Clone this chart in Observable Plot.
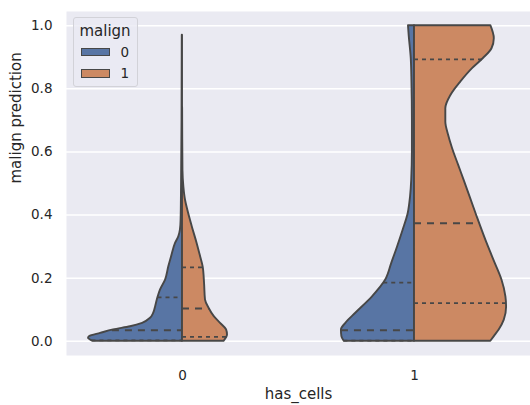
<!DOCTYPE html>
<html>
<head>
<meta charset="utf-8">
<script src="https://cdn.jsdelivr.net/npm/d3@7"></script>
<script src="https://cdn.jsdelivr.net/npm/@observablehq/plot@0.6"></script>
<style>
  body { margin: 0; background: white; }
  #wrap { position: relative; width: 530px; height: 405px; font-family: "DejaVu Sans", sans-serif; color: #262626; }
  #legend { position: absolute; left: 72.5px; top: 16.5px; width: 65px; height: 70px; box-sizing: border-box;
            background: rgba(234,234,242,0.8); border: 1px solid #d2d2d8; border-radius: 3px; }
  #legend .title { position: absolute; left: 0; width: 100%; top: 4px; text-align: center; font-size: 15px; line-height: 18px; }
  #legend .sw { position: absolute; left: 7px; width: 29px; height: 8.5px; border: 1.3px solid #474747; box-sizing: border-box; }
  #legend .lab { position: absolute; left: 47px; font-size: 13.5px; line-height: 16px; }
</style>
</head>
<body>
<div id="wrap">
  <div id="chart"></div>
  <div id="legend"></div>
</div>
<script>
// ---- data ----
const hasCells = [0, 1];
const malign = [0, 1];
const malignColors = ["#5875a4", "#cc8963"];
const legendTitle = "malign";
const xLabel = "has_cells";
const yLabel = "malign prediction";
const yTicks = [0, 0.2, 0.4, 0.6, 0.8, 1.0];
const yTickLabels = ["0.0", "0.2", "0.4", "0.6", "0.8", "1.0"];

// density half-widths (x units) at prediction values, has_cells=0, malign=0
const c0m0Y = [0, 0.010, 0.015, 0.025, 0.036, 0.046, 0.057, 0.073, 0.089, 0.109, 0.138, 0.162, 0.194, 0.236, 0.268, 0.310, 0.331, 0.352, 0.384, 0.50, 0.70, 0.97];
const c0m0W = [0.384, 0.405, 0.400, 0.353, 0.297, 0.224, 0.172, 0.138, 0.124, 0.116, 0.106, 0.095, 0.073, 0.059, 0.047, 0.030, 0.016, 0.009, 0.006, 0.004, 0.002, 0.001];
// has_cells=0, malign=1
const c0m1Y = [0, 0.020, 0.036, 0.057, 0.078, 0.104, 0.131, 0.184, 0.236, 0.268, 0.310, 0.363, 0.415, 0.447, 0.488, 0.54, 0.64, 0.74];
const c0m1W = [0.179, 0.194, 0.190, 0.164, 0.137, 0.115, 0.099, 0.095, 0.089, 0.078, 0.063, 0.042, 0.023, 0.013, 0.006, 0.002, 0.001, 0.0005];
// has_cells=1, malign=0
const c1m0Y = [0, 0.015, 0.036, 0.057, 0.089, 0.141, 0.194, 0.247, 0.299, 0.352, 0.405, 0.458, 0.51, 0.605, 0.70, 0.822, 0.896, 0.969, 1.0];
const c1m0W = [0.303, 0.313, 0.315, 0.296, 0.253, 0.181, 0.124, 0.098, 0.073, 0.049, 0.027, 0.017, 0.012, 0.009, 0.009, 0.011, 0.014, 0.023, 0.026];
// has_cells=1, malign=1
const c1m1Y = [0, 0.015, 0.036, 0.067, 0.109, 0.141, 0.194, 0.247, 0.299, 0.405, 0.510, 0.558, 0.611, 0.653, 0.695, 0.737, 0.779, 0.822, 0.864, 0.896, 0.927, 0.959, 1.0];
const c1m1W = [0.329, 0.344, 0.365, 0.387, 0.397, 0.394, 0.377, 0.348, 0.319, 0.265, 0.214, 0.190, 0.164, 0.147, 0.135, 0.135, 0.157, 0.200, 0.250, 0.297, 0.334, 0.344, 0.329];

// quartiles (Q1, median, Q3)
const c0m0Q = [0.003, 0.035, 0.139];
const c0m1Q = [0.014, 0.104, 0.234];
const c1m0Q = [0.002, 0.035, 0.186];
const c1m1Q = [0.121, 0.374, 0.893];

// ---- build ----
const halves = [
  {cat: hasCells[0], m: malign[0], ys: c0m0Y, ws: c0m0W, qs: c0m0Q},
  {cat: hasCells[0], m: malign[1], ys: c0m1Y, ws: c0m1W, qs: c0m1Q},
  {cat: hasCells[1], m: malign[0], ys: c1m0Y, ws: c1m0W, qs: c1m0Q},
  {cat: hasCells[1], m: malign[1], ys: c1m1Y, ws: c1m1W, qs: c1m1Q}
];
const side = m => (m === malign[0] ? -1 : 1);
function widthAt(ys, ws, q) {
  for (let i = 1; i < ys.length; i++) {
    if (q <= ys[i]) {
      const t = (q - ys[i - 1]) / (ys[i] - ys[i - 1]);
      return ws[i - 1] + t * (ws[i] - ws[i - 1]);
    }
  }
  return ws[ws.length - 1];
}

const outline = "#474747";
const marks = [
  Plot.frame({fill: "#EAEAF2", stroke: null}),
  Plot.gridY(yTicks, {stroke: "white", strokeOpacity: 1, strokeWidth: 1.5})
];
for (const h of halves) {
  const rows = h.ys.map((y, i) => ({y, x1: h.cat, x2: h.cat + side(h.m) * h.ws[i]}));
  marks.push(Plot.areaX(rows, {
    y: "y", x1: "x1", x2: "x2", curve: "monotone-y",
    fill: malignColors[malign.indexOf(h.m)], fillOpacity: 1,
    stroke: outline, strokeWidth: 1.9, strokeLinejoin: "round"
  }));
}
for (const h of halves) {
  const rows = h.qs.map((q, i) => {
    const w = widthAt(h.ys, h.ws, q);
    const edge = h.cat + side(h.m) * w;
    return {q, xa: side(h.m) < 0 ? edge : h.cat, xb: side(h.m) < 0 ? h.cat : edge, med: i === 1};
  });
  marks.push(Plot.ruleY(rows.filter(d => !d.med), {y: "q", x1: "xa", x2: "xb", stroke: outline, strokeWidth: 1.8, strokeDasharray: "4,4"}));
  marks.push(Plot.ruleY(rows.filter(d => d.med), {y: "q", x1: "xa", x2: "xb", stroke: outline, strokeWidth: 1.8, strokeDasharray: "7,6"}));
}
marks.push(
  Plot.axisX({ticks: hasCells, tickFormat: d => String(d), tickSize: 0, tickPadding: 15, label: null, fontSize: 13.5}),
  Plot.axisY({ticks: yTicks, tickFormat: d => yTickLabels[yTicks.indexOf(d)], tickSize: 0, tickPadding: 14, label: null, fontSize: 13.5}),
  Plot.text([xLabel], {text: d => d, frameAnchor: "bottom", dy: 43, fontSize: 15, fill: "#262626"}),
  Plot.text([yLabel], {text: d => d, frameAnchor: "left", dx: -50, rotate: -90, fontSize: 15, fill: "#262626"})
);

const chart = Plot.plot({
  width: 530, height: 405,
  marginLeft: 66, marginRight: 0, marginTop: 11, marginBottom: 50,
  style: {fontFamily: "DejaVu Sans, sans-serif", fontSize: "13.5px", color: "#262626", background: "white", overflow: "visible"},
  x: {type: "linear", domain: [-0.5, 1.5]},
  y: {domain: [-0.045, 1.045]},
  marks
});
document.getElementById("chart").appendChild(chart);

// legend
const leg = document.getElementById("legend");
const t = document.createElement("div");
t.className = "title"; t.textContent = legendTitle; leg.appendChild(t);
malign.forEach((m, i) => {
  const sw = document.createElement("div");
  sw.className = "sw"; sw.style.top = (30 + i * 21.7) + "px"; sw.style.background = malignColors[i];
  leg.appendChild(sw);
  const lab = document.createElement("div");
  lab.className = "lab"; lab.style.top = (26 + i * 21.7) + "px"; lab.textContent = String(m);
  leg.appendChild(lab);
});
</script>
</body>
</html>
